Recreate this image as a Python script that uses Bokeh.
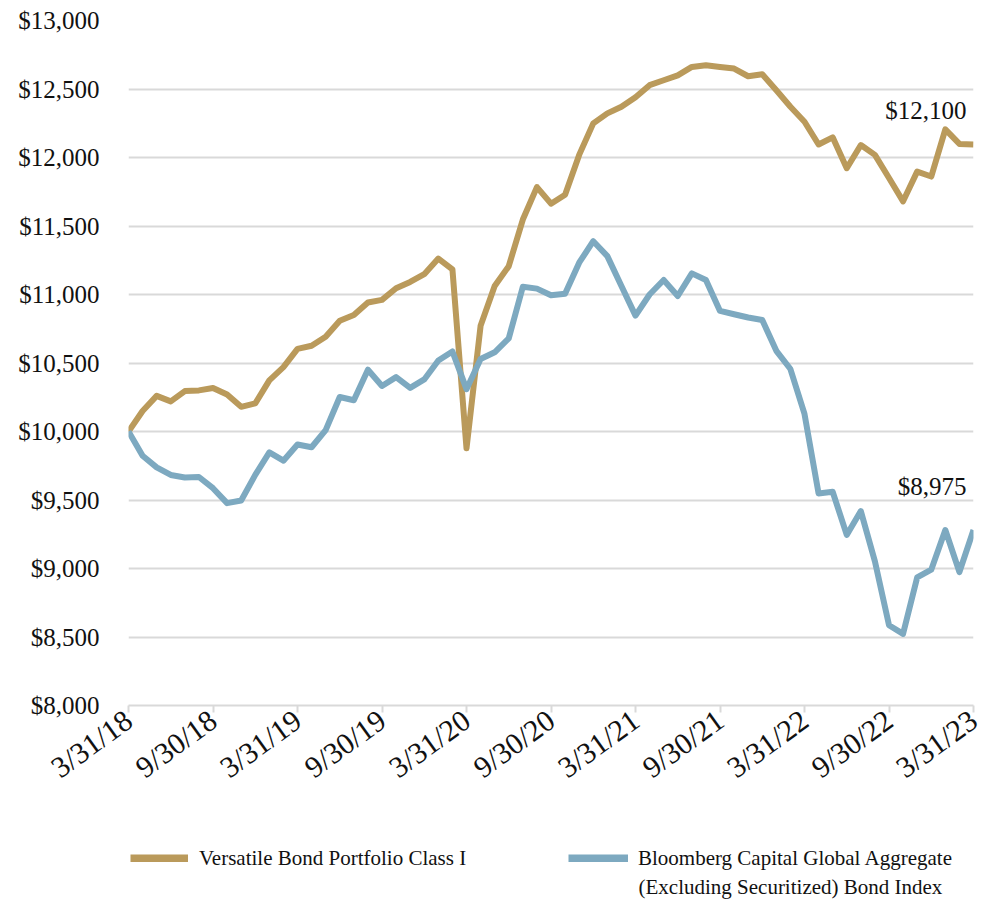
from bokeh.plotting import figure
from bokeh.layouts import column
from bokeh.models import (FixedTicker, NumeralTickFormatter, Legend, LegendItem,
                          Label, ColumnDataSource)
from bokeh.embed import file_html
from bokeh.resources import INLINE
import math

# ---- data (month-end values, 3/31/18 .. 3/31/23) ----
tick_labels = ["3/31/18", "9/30/18", "3/31/19", "9/30/19", "3/31/20", "9/30/20",
               "3/31/21", "9/30/21", "3/31/22", "9/30/22", "3/31/23"]

portfolio_name = "Versatile Bond Portfolio Class I"
index_name_1 = "Bloomberg Capital Global Aggregate"
index_name_2 = "(Excluding Securitized) Bond Index"

portfolio = [10000, 10150, 10260, 10220, 10295, 10300, 10318, 10270, 10180, 10205, 10373, 10470,
             10603, 10626, 10692, 10808, 10850, 10942, 10961, 11046, 11092, 11148, 11262, 11184,
             9877, 10771, 11062, 11207, 11547, 11784, 11663, 11728, 12019, 12249, 12322, 12370,
             12440, 12528, 12564, 12600, 12661, 12673, 12661, 12649, 12593, 12608, 12491, 12370,
             12261, 12095, 12147, 11922, 12091, 12019, 11850, 11680, 11897, 11861, 12205, 12099,
             12095]

index = [10000, 9823, 9738, 9683, 9664, 9668, 9586, 9477, 9496, 9683, 9847, 9787,
         9905, 9885, 10010, 10252, 10228, 10451, 10332, 10397, 10318, 10380, 10518, 10584,
         10309, 10529, 10578, 10680, 11057, 11043, 10994, 11006, 11232, 11389, 11280, 11062,
         10846, 11000, 11106, 10989, 11154, 11106, 10880, 10856, 10832, 10814, 10589, 10456,
         10128, 9548, 9560, 9245, 9419, 9052, 8586, 8523, 8935, 8991, 9281, 8974, 9281]

end_labels = ["$12,100", "$8,975"]

months = list(range(len(portfolio)))
y_ticks = list(range(8000, 13001, 500))

GOLD = "#BA9A5B"
BLUE = "#7DA9C0"
GRID = "#D9D9D9"
TXT = "#111111"
FONT = "Liberation Serif"

LEFT, RIGHT = 128, 16
W = 989

p = figure(width=W, height=800, output_backend="svg", toolbar_location=None,
           x_range=(0, 60), y_range=(8000, 13000),
           min_border_left=LEFT, min_border_right=RIGHT, min_border_top=20, min_border_bottom=92)
p.outline_line_color = None

src = ColumnDataSource(dict(m=months, port=portfolio, idx=index))
p.line("m", "port", source=src, line_color=GOLD, line_width=6, line_join="round")
p.line("m", "idx", source=src, line_color=BLUE, line_width=6, line_join="round")

# grid
p.xgrid.visible = False
p.ygrid.grid_line_color = GRID
p.ygrid.grid_line_width = 2
p.ygrid.ticker = FixedTicker(ticks=y_ticks)

# y axis
p.yaxis.ticker = FixedTicker(ticks=y_ticks)
p.yaxis.formatter = NumeralTickFormatter(format="$0,0")
p.yaxis.axis_line_color = None
p.yaxis.major_tick_line_color = None
p.yaxis.minor_tick_line_color = None
p.yaxis.major_tick_out = 0
p.yaxis.major_label_standoff = 29
p.yaxis.major_label_text_font = FONT
p.yaxis.major_label_text_font_size = "25px"
p.yaxis.major_label_text_color = TXT

# x axis
p.xaxis.ticker = FixedTicker(ticks=list(range(0, 61, 6)))
p.xaxis.major_label_overrides = {i * 6: lab for i, lab in enumerate(tick_labels)}
p.xaxis.axis_line_color = GRID
p.xaxis.axis_line_width = 2
p.xaxis.major_tick_line_color = GRID
p.xaxis.major_tick_line_width = 2
p.xaxis.major_tick_out = 7
p.xaxis.major_tick_in = 0
p.xaxis.minor_tick_line_color = None
p.xaxis.major_label_orientation = math.radians(36)
p.xaxis.major_label_standoff = 4
p.xaxis.major_label_text_font = FONT
p.xaxis.major_label_text_font_size = "30px"
p.xaxis.major_label_text_color = TXT

# end value labels
p.add_layout(Label(x=59.5, y=12346, text=end_labels[0], text_align="right",
                   text_baseline="middle", text_font=FONT, text_font_size="25px",
                   text_color=TXT))
p.add_layout(Label(x=59.5, y=9600, text=end_labels[1], text_align="right",
                   text_baseline="middle", text_font=FONT, text_font_size="25px",
                   text_color=TXT))

# ---- legend strip (frame aligned with the chart frame: pixel-like ranges) ----
H2 = 103
q = figure(width=W, height=H2, output_backend="svg", toolbar_location=None,
           x_range=(LEFT, W - RIGHT), y_range=(0, H2),
           x_axis_location=None, y_axis_location=None,
           min_border_left=LEFT, min_border_right=RIGHT, min_border_top=0, min_border_bottom=0)
q.outline_line_color = None
q.xgrid.visible = False
q.ygrid.visible = False

# swatch renderers: same series, lying outside this strip's ranges (only their legend glyph shows)
sw1 = q.line(months, portfolio, line_color=GOLD, line_width=8)
sw2 = q.line(months, index, line_color=BLUE, line_width=8)

def make_legend(item, loc, gw, standoff):
    return Legend(items=[item], location=loc, orientation="horizontal",
                  glyph_width=gw, glyph_height=8, label_standoff=standoff,
                  padding=0, margin=0, spacing=0, label_height=26,
                  label_text_font=FONT, label_text_font_size="21px",
                  label_text_color=TXT,
                  background_fill_alpha=0, border_line_alpha=0)

q.add_layout(make_legend(LegendItem(label=portfolio_name, renderers=[sw1]), (130 - LEFT, 32), 58, 11))
q.add_layout(make_legend(LegendItem(label=index_name_1, renderers=[sw2]), (568 - LEFT, 32), 60, 10))
q.add_layout(Label(x=638, y=17, text=index_name_2, text_align="left", text_baseline="middle",
                   text_font=FONT, text_font_size="21px", text_color=TXT))

layout = column(p, q, spacing=0)
open("out.html", "w").write(file_html(layout, INLINE))
